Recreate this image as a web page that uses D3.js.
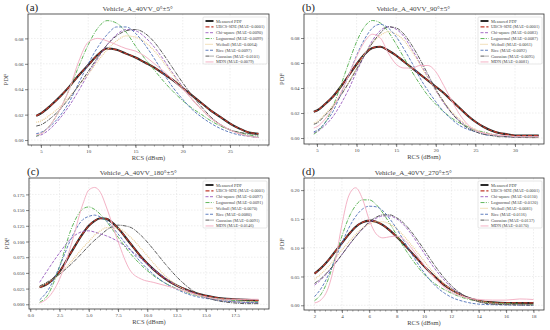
<!DOCTYPE html>
<html>
<head>
<meta charset="utf-8">
<script src="https://cdn.jsdelivr.net/npm/d3@7"></script>
<style>
  body { margin: 0; background: #fff; }
  svg text { font-family: "Liberation Serif", "DejaVu Serif", serif; fill: #333; }
</style>
</head>
<body>
<div id="chart"></div>
<script>

// declare constants
const FRAME_WIDTH = 550;
const FRAME_HEIGHT = 330;

const SERIES_NAMES = ["Measured PDF", "UBCS-SDE", "Chi-square", "Lognormal", "Weibull", "Rice", "Gaussian", "MDN"];

// panel (a) 0 deg
const RCS_A = [4.5,5,6,7,8,9,10,11,12,13,14,15,16,17,18,19,20,21,22,23,24,25,26,27,28];
const MEAS_A = [0.019,0.021,0.027,0.034,0.042,0.051,0.059,0.067,0.072,0.071,0.068,0.065,0.061,0.057,0.052,0.047,0.041,0.035,0.029,0.023,0.018,0.013,0.009,0.006,0.005];
const UBCS_A = [0.019,0.021,0.027,0.034,0.042,0.051,0.059,0.067,0.072,0.071,0.068,0.065,0.061,0.057,0.052,0.047,0.041,0.035,0.029,0.023,0.018,0.013,0.009,0.006,0.005];
const CHI_A = [0.003,0.004,0.009,0.017,0.027,0.039,0.052,0.064,0.075,0.083,0.087,0.086,0.081,0.073,0.063,0.052,0.042,0.032,0.024,0.017,0.012,0.008,0.005,0.003,0.002];
const LOGN_A = [0.003,0.005,0.012,0.024,0.040,0.058,0.075,0.088,0.094,0.092,0.085,0.074,0.064,0.055,0.046,0.038,0.031,0.025,0.020,0.015,0.011,0.008,0.006,0.004,0.003];
const WEIB_A = [0.014,0.015,0.020,0.026,0.034,0.043,0.052,0.062,0.071,0.078,0.082,0.081,0.077,0.070,0.061,0.051,0.041,0.032,0.024,0.017,0.012,0.008,0.005,0.003,0.002];
const RICE_A = [0.005,0.006,0.011,0.019,0.030,0.045,0.060,0.073,0.083,0.089,0.089,0.084,0.075,0.064,0.052,0.041,0.032,0.024,0.018,0.013,0.009,0.006,0.004,0.003,0.002];
const GAUS_A = [0.011,0.012,0.017,0.024,0.033,0.043,0.054,0.065,0.075,0.082,0.086,0.087,0.084,0.077,0.067,0.056,0.045,0.035,0.026,0.018,0.012,0.008,0.006,0.005,0.004];
const MDN_A = [0.004,0.005,0.012,0.024,0.040,0.062,0.077,0.080,0.078,0.075,0.072,0.070,0.066,0.060,0.054,0.047,0.040,0.032,0.024,0.017,0.012,0.008,0.005,0.003,0.002];
const MAE_A = ["0.0001","0.0090","0.0099","0.0064","0.0097","0.0101","0.0079"];
const XTICKS_A = [5,10,15,20,25];
const YTICKS_A = [0,0.02,0.04,0.06,0.08];

// panel (b) 90 deg
const RCS_B = [4.6,5,6,7,8,9,10,11,12,13,14,15,16,17,18,19,20,21,22,23,24,25,26,27,28,29,30,31,32,33];
const MEAS_B = [0.021,0.022,0.027,0.033,0.041,0.050,0.059,0.067,0.072,0.073,0.070,0.066,0.061,0.056,0.051,0.046,0.041,0.036,0.030,0.024,0.018,0.013,0.009,0.006,0.004,0.003,0.002,0.002,0.002,0.002];
const UBCS_B = [0.021,0.022,0.027,0.033,0.041,0.050,0.059,0.067,0.072,0.073,0.070,0.066,0.061,0.056,0.051,0.046,0.041,0.036,0.030,0.024,0.018,0.013,0.009,0.006,0.004,0.003,0.002,0.002,0.002,0.002];
const CHI_B = [0.004,0.005,0.010,0.017,0.027,0.039,0.053,0.066,0.078,0.086,0.089,0.087,0.081,0.071,0.060,0.049,0.038,0.028,0.020,0.014,0.009,0.006,0.004,0.003,0.002,0.001,0.001,0.001,0.001,0.001];
const LOGN_B = [0.003,0.005,0.012,0.025,0.042,0.060,0.077,0.089,0.094,0.092,0.085,0.075,0.064,0.053,0.043,0.034,0.027,0.021,0.016,0.012,0.009,0.006,0.005,0.003,0.002,0.002,0.001,0.001,0.001,0.0005];
const WEIB_B = [0.012,0.013,0.019,0.026,0.035,0.045,0.056,0.067,0.076,0.082,0.085,0.083,0.078,0.069,0.059,0.048,0.038,0.029,0.021,0.015,0.010,0.007,0.004,0.003,0.002,0.001,0.001,0.001,0.0005,0.0005];
const RICE_B = [0.005,0.006,0.012,0.021,0.035,0.050,0.066,0.079,0.088,0.091,0.088,0.081,0.071,0.060,0.048,0.038,0.029,0.021,0.015,0.010,0.007,0.005,0.003,0.002,0.002,0.001,0.001,0.001,0.001,0.001];
const GAUS_B = [0.011,0.012,0.018,0.025,0.034,0.044,0.055,0.066,0.076,0.084,0.089,0.088,0.083,0.074,0.063,0.051,0.039,0.029,0.020,0.013,0.008,0.005,0.003,0.002,0.001,0.001,0.0005,0.0004,0.0003,0.0003];
const MDN_B = [0.008,0.009,0.015,0.024,0.036,0.050,0.065,0.077,0.083,0.080,0.068,0.059,0.056,0.056,0.058,0.058,0.053,0.042,0.030,0.019,0.011,0.006,0.004,0.003,0.002,0.002,0.001,0.001,0.001,0.001];
const MAE_B = ["0.0001","0.0083","0.0087","0.0061","0.0092","0.0095","0.0081"];
const XTICKS_B = [5,10,15,20,25,30];
const YTICKS_B = [0,0.02,0.04,0.06,0.08];

// panel (c) 180 deg
const RCS_C = [0.8,1.5,2.5,3.5,4.5,5,5.5,6,6.5,7.5,8.5,9.5,10.5,11.5,12.5,13.5,14.5,15.5,16.5,17.5,18.5,19.5];
const MEAS_C = [0.027,0.033,0.052,0.083,0.113,0.125,0.133,0.137,0.136,0.121,0.098,0.075,0.056,0.041,0.030,0.022,0.016,0.012,0.009,0.008,0.007,0.006];
const UBCS_C = [0.027,0.033,0.052,0.083,0.113,0.125,0.133,0.137,0.136,0.121,0.098,0.075,0.056,0.041,0.030,0.022,0.016,0.012,0.009,0.008,0.007,0.006];
const CHI_C = [0.035,0.055,0.082,0.105,0.116,0.117,0.115,0.112,0.109,0.100,0.087,0.072,0.056,0.042,0.030,0.021,0.014,0.009,0.006,0.004,0.003,0.002];
const LOGN_C = [0.003,0.015,0.060,0.120,0.152,0.155,0.151,0.143,0.132,0.107,0.082,0.062,0.046,0.034,0.025,0.018,0.013,0.010,0.008,0.006,0.005,0.004];
const WEIB_C = [0.028,0.035,0.048,0.068,0.090,0.100,0.110,0.117,0.122,0.121,0.108,0.088,0.066,0.046,0.031,0.020,0.013,0.009,0.006,0.004,0.004,0.003];
const RICE_C = [0.007,0.022,0.060,0.105,0.135,0.140,0.142,0.139,0.133,0.112,0.088,0.066,0.048,0.034,0.024,0.016,0.011,0.008,0.005,0.004,0.003,0.003];
const GAUS_C = [0.029,0.036,0.048,0.064,0.083,0.093,0.102,0.110,0.118,0.126,0.123,0.109,0.088,0.065,0.044,0.027,0.015,0.008,0.004,0.002,0.001,0.001];
const MDN_C = [0.002,0.010,0.040,0.095,0.160,0.182,0.186,0.178,0.155,0.100,0.055,0.040,0.035,0.030,0.025,0.019,0.014,0.010,0.008,0.008,0.008,0.008];
const MAE_C = ["0.0001","0.0097","0.0091","0.0070","0.0080","0.0091","0.0146"];
const XTICKS_C = [0,2.5,5,7.5,10,12.5,15,17.5];
const YTICKS_C = [0,0.025,0.05,0.075,0.1,0.125,0.15,0.175];

// panel (d) 270 deg
const RCS_D = [2,2.5,3,3.5,4,4.5,5,5.5,6,6.5,7,7.5,8,8.5,9,9.5,10,10.5,11,11.5,12,13,14,15,16,17,18];
const MEAS_D = [0.055,0.065,0.078,0.093,0.108,0.123,0.136,0.144,0.147,0.145,0.139,0.130,0.119,0.107,0.094,0.081,0.068,0.056,0.045,0.035,0.027,0.015,0.008,0.005,0.004,0.004,0.004];
const UBCS_D = [0.055,0.065,0.078,0.093,0.108,0.123,0.136,0.144,0.147,0.145,0.139,0.130,0.119,0.107,0.094,0.081,0.068,0.056,0.045,0.035,0.027,0.015,0.008,0.005,0.004,0.004,0.004];
const CHI_D = [0.035,0.045,0.058,0.072,0.088,0.104,0.119,0.132,0.143,0.151,0.155,0.155,0.150,0.140,0.126,0.109,0.091,0.073,0.057,0.043,0.031,0.015,0.007,0.003,0.002,0.001,0.001];
const LOGN_D = [0.008,0.020,0.045,0.082,0.120,0.152,0.173,0.183,0.183,0.175,0.160,0.142,0.122,0.102,0.084,0.068,0.054,0.043,0.034,0.027,0.021,0.012,0.007,0.004,0.003,0.002,0.001];
const WEIB_D = [0.045,0.055,0.067,0.081,0.096,0.110,0.123,0.134,0.141,0.145,0.145,0.141,0.133,0.121,0.107,0.092,0.077,0.062,0.049,0.037,0.028,0.014,0.007,0.003,0.002,0.001,0.001];
const RICE_D = [0.015,0.030,0.052,0.080,0.108,0.134,0.154,0.167,0.172,0.171,0.164,0.150,0.133,0.113,0.093,0.074,0.057,0.042,0.030,0.021,0.014,0.006,0.002,0.001,0.0005,0.0003,0.0002];
const GAUS_D = [0.038,0.047,0.059,0.073,0.088,0.104,0.119,0.133,0.145,0.153,0.157,0.157,0.152,0.143,0.130,0.114,0.097,0.079,0.062,0.047,0.034,0.016,0.006,0.002,0.001,0.0005,0.0002];
const MDN_D = [0.004,0.010,0.030,0.075,0.140,0.190,0.204,0.185,0.148,0.124,0.117,0.119,0.120,0.115,0.102,0.086,0.070,0.055,0.042,0.031,0.023,0.014,0.010,0.009,0.009,0.011,0.010];
const MAE_D = ["0.0001","0.0110","0.0120","0.0081","0.0116","0.0137","0.0170"];
const XTICKS_D = [2,4,6,8,10,12,14,16,18];
const YTICKS_D = [0,0.05,0.1,0.15,0.2];

// line styles, same order as SERIES_NAMES
const STYLES = [
  {color: "#2b2b2b", width: 2.1, dash: null},
  {color: "#c0392b", width: 1.2, dash: "4,1.8"},
  {color: "#9a5cc0", width: 0.9, dash: "3,1.5"},
  {color: "#4fae4a", width: 0.9, dash: "4,1.3,1,1.3"},
  {color: "#e9cc92", width: 1.1, dash: "1,1"},
  {color: "#4f70b8", width: 0.9, dash: "3,1.5"},
  {color: "#4a4a4a", width: 0.9, dash: "4,1,1,1"},
  {color: "#f4b3c6", width: 1.0, dash: null}
];

const PANELS = [
  {tag: "(a)", title: "Vehicle_A_40VV_0°±5°", left: 28, right: 269, top: 14, bottom: 145,
   xDomain: [3.63, 29.12], yDomain: [-0.0039, 0.0992], xTicks: XTICKS_A, yTicks: YTICKS_A,
   xFmt: d3.format("d"), yFmt: d3.format(".2f"), x: RCS_A,
   ys: [MEAS_A, UBCS_A, CHI_A, LOGN_A, WEIB_A, RICE_A, GAUS_A, MDN_A], mae: MAE_A},
  {tag: "(b)", title: "Vehicle_A_40VV_90°±5°", left: 304, right: 544, top: 14, bottom: 144,
   xDomain: [3.36, 33.66], yDomain: [-0.0048, 0.0992], xTicks: XTICKS_B, yTicks: YTICKS_B,
   xFmt: d3.format("d"), yFmt: d3.format(".2f"), x: RCS_B,
   ys: [MEAS_B, UBCS_B, CHI_B, LOGN_B, WEIB_B, RICE_B, GAUS_B, MDN_B], mae: MAE_B},
  {tag: "(c)", title: "Vehicle_A_40VV_180°±5°", left: 29, right: 269, top: 178, bottom: 309,
   xDomain: [-0.11, 20.4], yDomain: [-0.0075, 0.2011], xTicks: XTICKS_C, yTicks: YTICKS_C,
   xFmt: d3.format(".1f"), yFmt: d3.format(".3f"), x: RCS_C,
   ys: [MEAS_C, UBCS_C, CHI_C, LOGN_C, WEIB_C, RICE_C, GAUS_C, MDN_C], mae: MAE_C},
  {tag: "(d)", title: "Vehicle_A_40VV_270°±5°", left: 304, right: 544, top: 178, bottom: 310,
   xDomain: [1.23, 18.77], yDomain: [-0.0082, 0.221], xTicks: XTICKS_D, yTicks: YTICKS_D,
   xFmt: d3.format("d"), yFmt: d3.format(".2f"), x: RCS_D,
   ys: [MEAS_D, UBCS_D, CHI_D, LOGN_D, WEIB_D, RICE_D, GAUS_D, MDN_D], mae: MAE_D}
];

const FRAME = d3.select("#chart")
                .append("svg")
                  .attr("width", FRAME_WIDTH)
                  .attr("height", FRAME_HEIGHT);

FRAME.append("rect")
      .attr("width", FRAME_WIDTH)
      .attr("height", FRAME_HEIGHT)
      .attr("fill", "#fff");

// one function draws one subplot
function build_panel(p, idx) {

  const X_SCALE = d3.scaleLinear()
                    .domain(p.xDomain)
                    .range([p.left, p.right]);
  const Y_SCALE = d3.scaleLinear()
                    .domain(p.yDomain)
                    .range([p.bottom, p.top]);

  const G = FRAME.append("g");

  // grid
  G.selectAll(".vgrid")
    .data(p.xTicks)
    .enter()
    .append("line")
      .attr("x1", d => X_SCALE(d)).attr("x2", d => X_SCALE(d))
      .attr("y1", p.top).attr("y2", p.bottom)
      .attr("stroke", "#dcdcdc").attr("stroke-width", 0.5)
      .attr("stroke-dasharray", "1.5,1.5");
  G.selectAll(".hgrid")
    .data(p.yTicks)
    .enter()
    .append("line")
      .attr("x1", p.left).attr("x2", p.right)
      .attr("y1", d => Y_SCALE(d)).attr("y2", d => Y_SCALE(d))
      .attr("stroke", "#dcdcdc").attr("stroke-width", 0.5)
      .attr("stroke-dasharray", "1.5,1.5");

  // clip for curves
  const clipId = "clip" + idx;
  G.append("clipPath").attr("id", clipId)
    .append("rect")
      .attr("x", p.left).attr("y", p.top)
      .attr("width", p.right - p.left).attr("height", p.bottom - p.top);

  const LINE = d3.line()
                 .x((d) => X_SCALE(d[0]))
                 .y((d) => Y_SCALE(d[1]))
                 .curve(d3.curveMonotoneX);

  p.ys.forEach((vals, i) => {
    const pts = p.x.map((xv, j) => [xv, vals[j]]);
    G.append("path")
      .attr("clip-path", "url(#" + clipId + ")")
      .attr("d", LINE(pts))
      .attr("fill", "none")
      .attr("stroke", STYLES[i].color)
      .attr("stroke-width", STYLES[i].width)
      .attr("stroke-dasharray", STYLES[i].dash);
  });

  // axes
  const xAxis = G.append("g")
                  .attr("transform", "translate(0," + p.bottom + ")")
                  .call(d3.axisBottom(X_SCALE).tickValues(p.xTicks).tickFormat(p.xFmt)
                          .tickSize(3).tickPadding(1.5));
  const yAxis = G.append("g")
                  .attr("transform", "translate(" + p.left + ",0)")
                  .call(d3.axisLeft(Y_SCALE).tickValues(p.yTicks).tickFormat(p.yFmt)
                          .tickSize(3).tickPadding(1.5));
  [xAxis, yAxis].forEach((ax) => {
    ax.select(".domain").remove();
    ax.selectAll("line").attr("stroke", "#333").attr("stroke-width", 0.6);
    ax.selectAll("text")
        .attr("font-size", "5px")
        .style("fill", "#444");
  });

  // minor ticks
  const xStep = p.xTicks[1] - p.xTicks[0];
  const xMinor = d3.range(Math.ceil(p.xDomain[0] / (xStep / 5)), Math.floor(p.xDomain[1] / (xStep / 5)) + 1)
                   .map(k => k * xStep / 5);
  G.selectAll(".xminor")
    .data(xMinor)
    .enter()
    .append("line")
      .attr("x1", d => X_SCALE(d)).attr("x2", d => X_SCALE(d))
      .attr("y1", p.bottom).attr("y2", p.bottom + 1.6)
      .attr("stroke", "#333").attr("stroke-width", 0.4);

  // frame
  G.append("rect")
    .attr("x", p.left).attr("y", p.top)
    .attr("width", p.right - p.left).attr("height", p.bottom - p.top)
    .attr("fill", "none").attr("stroke", "#333").attr("stroke-width", 0.8);

  // texts
  G.append("text")
    .attr("x", p.left + (p.right - p.left) * 0.455)
    .attr("y", p.top - 3)
    .attr("text-anchor", "middle")
    .attr("font-size", "7px")
    .style("fill", "#444")
    .text(p.title);

  G.append("text")
    .attr("x", p.left - 2)
    .attr("y", p.top - 3)
    .attr("font-size", "11px")
    .style("fill", "#222")
    .text(p.tag);

  G.append("text")
    .attr("x", (p.left + p.right) / 2)
    .attr("y", p.bottom + 14.5)
    .attr("text-anchor", "middle")
    .attr("font-size", "6.5px")
    .style("fill", "#444")
    .text("RCS (dBsm)");

  G.append("text")
    .attr("transform", "translate(" + (p.left - 20) + "," + ((p.top + p.bottom) / 2) + ") rotate(-90)")
    .attr("text-anchor", "middle")
    .attr("font-size", "6.5px")
    .style("fill", "#444")
    .text("PDF");

  // legend
  const LEG_W = 64, LEG_H = 47, ROW = 5.85;
  const lx = p.right - LEG_W - 2, ly = p.top + 3;
  const LEG = G.append("g").attr("transform", "translate(" + lx + "," + ly + ")");
  LEG.append("rect")
      .attr("width", LEG_W).attr("height", LEG_H)
      .attr("rx", 1)
      .attr("fill", "#fff").attr("fill-opacity", 0.85)
      .attr("stroke", "#ccc").attr("stroke-width", 0.5);

  SERIES_NAMES.forEach((name, i) => {
    const yy = 4 + i * ROW;
    LEG.append("line")
        .attr("x1", 2.5).attr("x2", 10.5)
        .attr("y1", yy).attr("y2", yy)
        .attr("stroke", STYLES[i].color)
        .attr("stroke-width", i === 0 ? 2 : Math.min(STYLES[i].width, 1.1))
        .attr("stroke-dasharray", STYLES[i].dash);
    LEG.append("text")
        .attr("x", 13).attr("y", yy + 1.5)
        .attr("font-size", "4.3px")
        .style("fill", "#444")
        .text(i === 0 ? name : name + " (MAE=" + p.mae[i - 1] + ")");
  });
}

PANELS.forEach(build_panel);

</script>
</body>
</html>
